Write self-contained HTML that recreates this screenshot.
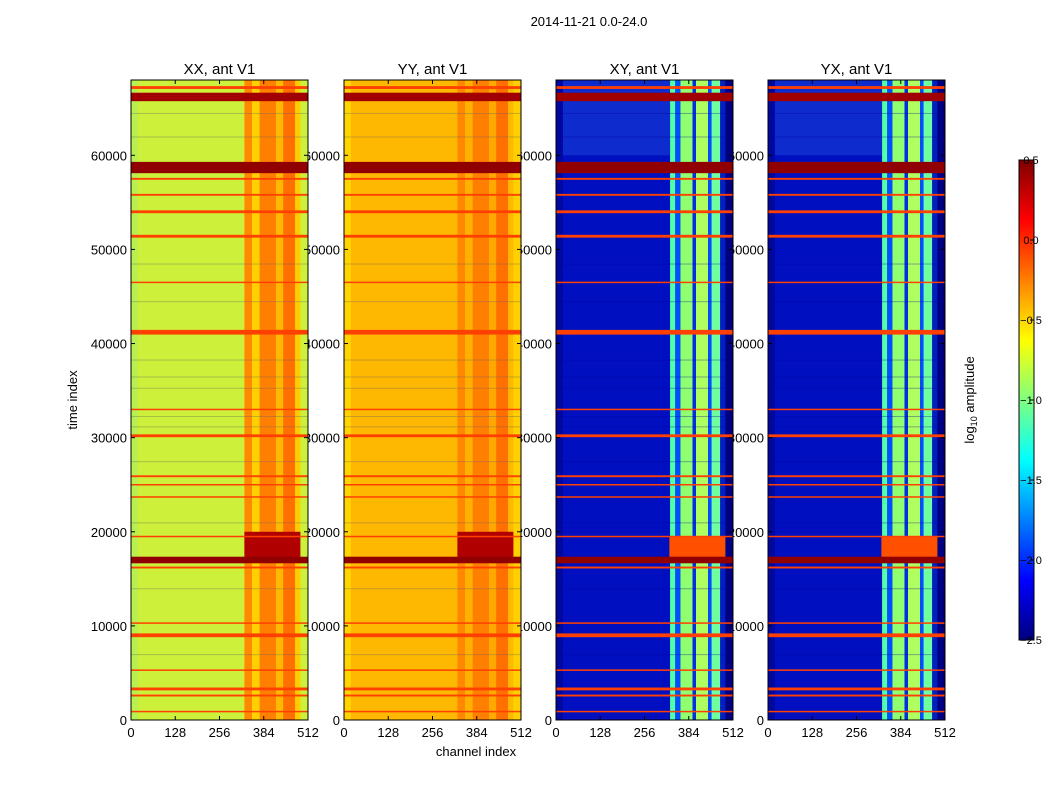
<!DOCTYPE html>
<html><head><meta charset="utf-8"><style>
html,body{margin:0;padding:0;background:#fff;}
svg{display:block;font-family:"Liberation Sans",sans-serif;}
</style></head><body>
<svg id="fig" width="1050" height="800" viewBox="0 0 1050 800">
<defs>
<linearGradient id="jet" x1="0" y1="1" x2="0" y2="0">
<stop offset="0" stop-color="#000080"/><stop offset="0.125" stop-color="#0000ff"/>
<stop offset="0.375" stop-color="#00ffff"/><stop offset="0.625" stop-color="#ffff00"/>
<stop offset="0.875" stop-color="#ff0000"/><stop offset="1" stop-color="#800000"/>
</linearGradient>
</defs>
<text x="589" y="26" font-size="13" text-anchor="middle">2014-11-21 0.0-24.0</text>
<g id="labels"></g>
<g id="images"></g>
<text x="476" y="756" font-size="13" text-anchor="middle">channel index</text>
<text transform="translate(77,400) rotate(-90)" font-size="13" text-anchor="middle">time index</text>
<rect x="1019" y="160" width="15" height="480" fill="url(#jet)" stroke="#000" stroke-width="1"/>
<text transform="translate(974,400) rotate(-90)" font-size="13" text-anchor="middle">log<tspan font-size="9" dy="3">10</tspan><tspan dy="-3"> amplitude</tspan></text>
<g id="cbticks"></g>
</svg>
<script>
const panelTitles=["XX, ant V1","YY, ant V1","XY, ant V1","YX, ant V1"];
const panelLeft=[131,344,556,768];
const xTicks=[0,128,256,384,512];
const yTicks=[0,10000,20000,30000,40000,50000,60000];
const cbTicks=[0.5,0.0,-0.5,-1.0,-1.5,-2.0,-2.5];
const panelBase=["#cdf03a","#ffd400","#0010c0","#0010c0"];
const panelBands=[
 [[0,20,"#b8f050"],[328,350,"#ff8a00"],[350,372,"#ffd000"],[372,420,"#ff8000"],[420,440,"#ffb800"],[440,475,"#ff7000"],[475,490,"#ffcc00"]],
 [[20,330,"#ffb800"],[328,350,"#ff8800"],[350,372,"#ffb000"],[372,420,"#ff8000"],[420,440,"#ffa800"],[440,475,"#ff7000"],[475,490,"#ffb800"],[490,512,"#ffd000"]],
 [[0,20,"#0008a0"],[330,345,"#50ffa8"],[345,360,"#0050ff"],[360,395,"#90ff70"],[395,405,"#0030e0"],[405,440,"#b0ff60"],[440,450,"#0050ff"],[450,475,"#70ffa0"],[475,490,"#0020c0"],[490,512,"#000080"]],
 [[0,20,"#0008a0"],[330,345,"#50ffa8"],[345,360,"#0050ff"],[360,395,"#90ff70"],[395,405,"#0030e0"],[405,440,"#b0ff60"],[440,450,"#0050ff"],[450,475,"#70ffa0"],[475,490,"#0020c0"],[490,512,"#000080"]]
];
const hotTimes=[[17000,20000],[17000,20000],[17000,19500],[17000,19500]];
const hotColor=["#b00000","#b00000","#ff5000","#ff5000"];
const topBandColor=[null,null,"#2050e0","#2050e0"];
const flagTimes=[67200,66200,58700,57500,55800,54000,51400,46500,41200,33000,30200,25900,25000,23700,19500,17000,16200,10300,9000,5300,3300,2600,900];
const flagWidths=[300,900,1200,200,200,300,300,150,500,150,300,200,150,150,150,700,200,150,400,150,300,200,150];
const flagColors=["#ff4000","#a00000","#900000","#ff4000","#ff4000","#ff4000","#ff4000","#ff4000","#ff4000","#ff4000","#ff4000","#ff4000","#ff4000","#ff4000","#ff4000","#900000","#ff4000","#ff4000","#ff4000","#ff4000","#ff4000","#ff4000","#ff4000"];
const thinTimes=[64500,62000,48500,44500,38300,36500,35300,32300,31200,27500,21000,14000,7000];
</script>
<script>
const NS="http://www.w3.org/2000/svg";
const W=177,TOP=80,BOT=720,TMAX=68000;
function yS(t){return BOT-t/TMAX*(BOT-TOP);}
function xS(p,c){return panelLeft[p]+c/512*W;}
function mk(tag,attrs,parent){const e=document.createElementNS(NS,tag);for(const k in attrs)e.setAttribute(k,attrs[k]);parent.appendChild(e);return e;}
const L=document.getElementById('labels'),I=document.getElementById('images');
panelTitles.forEach((tt,p)=>{
  const x0=panelLeft[p];
  const t=mk('text',{x:x0+W/2,y:74,'font-size':15,'text-anchor':'middle'},L);t.textContent=tt;
  
  
  yTicks.forEach(v=>{const e=mk('text',{x:x0-4,y:yS(v)+5,'font-size':13,'text-anchor':'end'},L);e.textContent=v;
    
    });
  xTicks.forEach(v=>{const e=mk('text',{x:xS(p,v),y:737,'font-size':13,'text-anchor':'middle'},L);e.textContent=v;
    
    });
  const g=mk('g',{},I);
  
  
  mk('rect',{x:x0,y:TOP,width:W,height:BOT-TOP,fill:panelBase[p]},g);
  if(topBandColor[p]){mk('rect',{x:x0,y:yS(68000),width:xS(p,330)-x0,height:yS(60000)-yS(68000),fill:topBandColor[p],opacity:0.45},g);}
  panelBands[p].forEach(b=>{mk('rect',{x:xS(p,b[0]),y:TOP,width:xS(p,b[1])-xS(p,b[0]),height:BOT-TOP,fill:b[2]},g);});
  const h=hotTimes[p];
  mk('rect',{x:xS(p,328),y:yS(h[1]),width:xS(p,490)-xS(p,328),height:yS(h[0])-yS(h[1]),fill:hotColor[p]},g);
  thinTimes.forEach(v=>{mk('rect',{x:x0,y:yS(v),width:W,height:1,fill:p<2?'#606060':'#0000a0',opacity:0.35},g);});
  flagTimes.forEach((v,i)=>{const y1=yS(v+flagWidths[i]/2),y2=yS(v-flagWidths[i]/2);
    const r=mk('rect',{x:x0,y:y1,width:W,height:Math.max(1.5,y2-y1),fill:flagColors[i]},g);
    
    });
  mk('rect',{x:x0,y:TOP,width:W,height:BOT-TOP,fill:'none',stroke:'#000','stroke-width':1},g);
  xTicks.forEach(v=>{mk('line',{x1:xS(p,v),x2:xS(p,v),y1:BOT,y2:BOT-4,stroke:'#000'},g);mk('line',{x1:xS(p,v),x2:xS(p,v),y1:TOP,y2:TOP+4,stroke:'#000'},g);});
  yTicks.forEach(v=>{mk('line',{x1:x0,x2:x0+4,y1:yS(v),y2:yS(v),stroke:'#000'},g);mk('line',{x1:x0+W-4,x2:x0+W,y1:yS(v),y2:yS(v),stroke:'#000'},g);});
});
const C=document.getElementById('cbticks');
cbTicks.forEach(v=>{const y=160+(0.5-v)/3*480;
  mk('line',{x1:1030,x2:1034,y1:y,y2:y,stroke:'#000'},C);
  const e=mk('text',{x:1031,y:y+4,'font-size':11,'text-anchor':'middle'},C);e.textContent=(v<0?'\u2212':'')+Math.abs(v).toFixed(1);
  
  });
</script>
</body></html>
